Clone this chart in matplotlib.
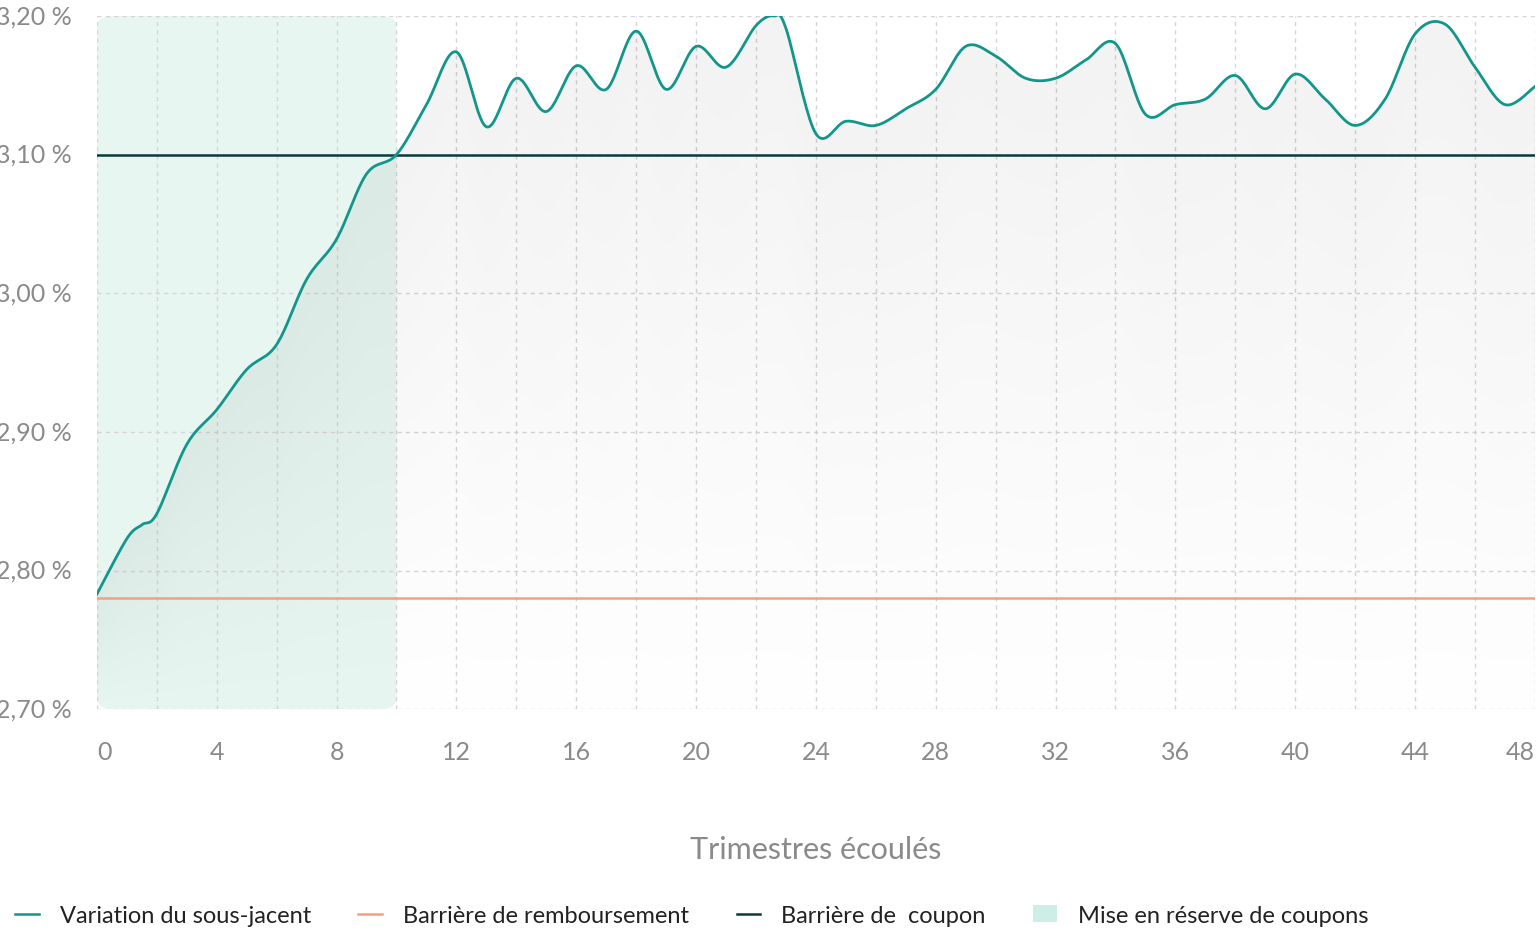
import numpy as np
import matplotlib.pyplot as plt
from matplotlib.patches import FancyBboxPatch, Patch
from matplotlib.lines import Line2D

plt.rcParams['font.family'] = ['Lato', 'DejaVu Sans']

# Data
quarters = [0, 1, 1.5, 2, 3, 4, 5, 6, 7, 8, 9, 10, 11, 12, 13, 14, 15, 16, 17, 18,
            19, 20, 21, 22, 22.6, 23, 24, 25, 26, 27, 28, 29, 30, 31, 32, 33, 34,
            35, 36, 37, 38, 39, 40, 41, 42, 43, 44, 45, 46, 47, 48]
underlying = [2.783, 2.823, 2.833, 2.841, 2.891, 2.916, 2.945, 2.963, 3.010, 3.039,
              3.086, 3.100, 3.136, 3.174, 3.120, 3.155, 3.131, 3.164, 3.147, 3.189,
              3.147, 3.178, 3.163, 3.193, 3.200, 3.191, 3.115, 3.124, 3.121, 3.133,
              3.147, 3.178, 3.171, 3.155, 3.155, 3.168, 3.180, 3.129, 3.136, 3.140,
              3.157, 3.133, 3.158, 3.140, 3.121, 3.140, 3.187, 3.194, 3.163, 3.136,
              3.149]
coupon_barrier = 3.10
redemption_barrier = 2.78
reserve_end = 10

TEAL = "#13968a"
DARK = "#0b3a3c"
ORANGE = "#f4a07c"
GREY = "#8a8a8a"


def smooth(x, y, n=20):
    """Catmull-Rom curve through the points, for a smooth line."""
    x = np.asarray(x, float)
    y = np.asarray(y, float)
    px = np.concatenate([[x[0]], x, [x[-1]]])
    py = np.concatenate([[y[0]], y, [y[-1]]])
    xs, ys = [], []
    t = np.linspace(0, 1, n, endpoint=False)
    for i in range(1, len(px) - 2):
        for arr, out in ((px, xs), (py, ys)):
            p0, p1, p2, p3 = arr[i - 1], arr[i], arr[i + 1], arr[i + 2]
            out.extend(0.5 * (2 * p1 + (-p0 + p2) * t
                              + (2 * p0 - 5 * p1 + 4 * p2 - p3) * t ** 2
                              + (-p0 + 3 * p1 - 3 * p2 + p3) * t ** 3))
    xs.append(x[-1])
    ys.append(y[-1])
    return np.array(xs), np.array(ys)


fig = plt.figure(figsize=(15.38, 9.37), dpi=100)
ax = fig.add_axes([0.063, 0.242, 0.935, 0.74])
ax.set_xlim(0, 48)
ax.set_ylim(2.70, 3.20)

# reserve zone
ax.add_patch(FancyBboxPatch((0, 2.70), reserve_end, 0.5,
                            boxstyle="round,pad=0,rounding_size=0.6",
                            mutation_aspect=0.5 / 48 * 1438 / 693 * 0.6,
                            facecolor="#e8f6f2", edgecolor="none", zorder=0))

for xv in range(0, 49, 2):
    ax.axvline(xv, color="#d6d6d6", lw=1, ls=(0, (3, 3)), zorder=1)
for yv in np.arange(2.70, 3.21, 0.1):
    ax.axhline(yv, color="#d6d6d6", lw=1, ls=(0, (3, 3)), zorder=1)

sx, sy = smooth(quarters, underlying)
# fading fill under the curve
for k in range(12):
    lo = 2.70 + (sy - 2.70) * k / 12
    ax.fill_between(sx, lo, sy, color=TEAL, alpha=0.0035, lw=0, zorder=1.5)

ax.axhline(redemption_barrier, color=ORANGE, lw=1.8, zorder=2)
ax.axhline(coupon_barrier, color=DARK, lw=1.8, zorder=2)
ax.plot(sx, sy, color=TEAL, lw=2, zorder=3)

ax.set_xticks(range(0, 49, 4))
ax.set_yticks(np.arange(2.70, 3.21, 0.1))
ax.set_yticklabels([f"{v:.2f} %".replace(".", ",") for v in np.arange(2.70, 3.21, 0.1)])
ax.tick_params(length=0, labelsize=18, colors=GREY)
ax.tick_params(axis="x", pad=22)
ax.tick_params(axis="y", pad=18)
for lab in ax.get_yticklabels():
    lab.set_verticalalignment("center")
xl = ax.get_xticklabels()
xl[0].set_horizontalalignment("left")
xl[-1].set_horizontalalignment("right")
for s in ax.spines.values():
    s.set_visible(False)
ax.set_xlabel("Trimestres écoulés", fontsize=22, color=GREY, labelpad=52)

handles = [
    Line2D([], [], color=TEAL, lw=1.8),
    Line2D([], [], color=ORANGE, lw=1.8),
    Line2D([], [], color=DARK, lw=1.8),
    Patch(facecolor="#cdeee6", edgecolor="none"),
]
labels = ["Variation du sous-jacent", "Barrière de remboursement",
          "Barrière de  coupon", "Mise en réserve de coupons"]
fig.legend(handles, labels, loc="lower left", bbox_to_anchor=(-0.004, -0.012),
           ncol=4, frameon=False, fontsize=17, handlelength=1.0,
           handletextpad=0.9, columnspacing=2.0, labelcolor="#222222")

fig.savefig("out.png", dpi=100)
